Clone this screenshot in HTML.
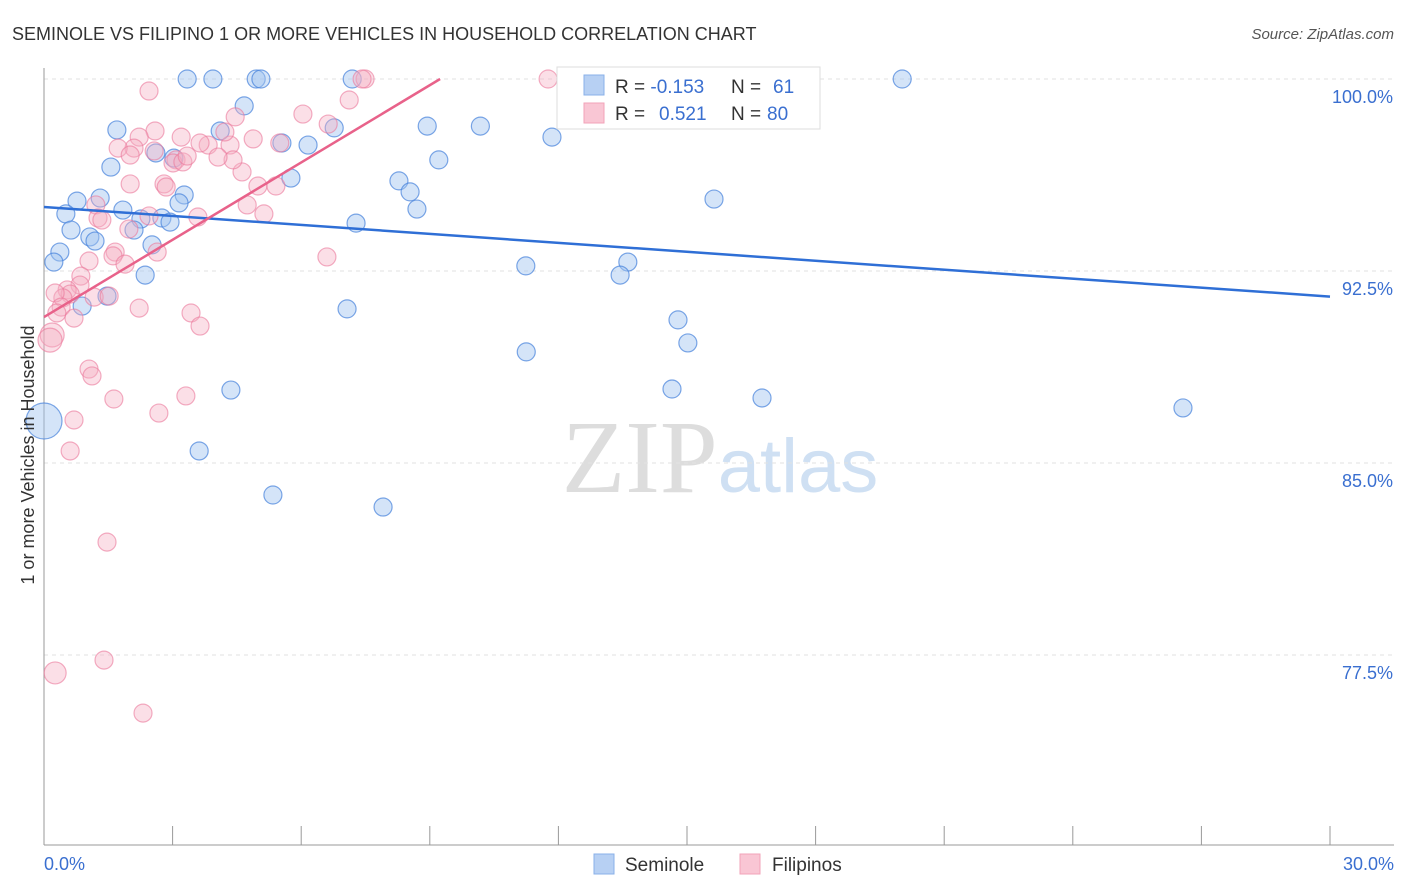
<!DOCTYPE html>
<html><head><meta charset="utf-8"><style>
body{margin:0;background:#fff;font-family:"Liberation Sans",sans-serif}
svg{display:block}
</style></head><body>
<svg id="c" width="1406" height="892" xmlns="http://www.w3.org/2000/svg">
<text x="12" y="40" font-size="18" fill="#333">SEMINOLE VS FILIPINO 1 OR MORE VEHICLES IN HOUSEHOLD CORRELATION CHART</text>
<text x="1394" y="39" font-size="15" fill="#555" font-style="italic" text-anchor="end">Source: ZipAtlas.com</text>
<text x="720" y="492" font-size="104" fill="#ddd" text-anchor="middle" font-family="Liberation Serif,serif">ZIP<tspan fill="#cfe0f3" font-family="Liberation Sans,sans-serif" font-size="76">atlas</tspan></text>
<g id="grid"></g>
<g id="axes"></g>
<g id="pts"></g>
<g id="trend"></g>
<text transform="translate(34,455) rotate(-90)" font-size="18" fill="#333" text-anchor="middle">1 or more Vehicles in Household</text>
<g>
<rect x="557" y="67" width="263" height="62" fill="#fff" stroke="#ddd"/>
<rect x="584" y="75" width="20" height="20" fill="#b7d0f3" stroke="#8ab0e8"/>
<rect x="584" y="103" width="20" height="20" fill="#f9c6d4" stroke="#f2a3b8"/>
<text x="615" y="93" font-size="19" fill="#333">R = <tspan fill="#3a6fd0">-0.153</tspan><tspan x="731">N = </tspan><tspan x="773" fill="#3a6fd0">61</tspan></text>
<text x="615" y="120" font-size="19" fill="#333">R = <tspan x="659" fill="#3a6fd0">0.521</tspan><tspan x="731">N = </tspan><tspan x="767" fill="#3a6fd0">80</tspan></text>
</g>
<g>
<rect x="594" y="854" width="20" height="20" fill="#b7d0f3" stroke="#8ab0e8"/>
<text x="625" y="871" font-size="19" fill="#333">Seminole</text>
<rect x="740" y="854" width="20" height="20" fill="#f9c6d4" stroke="#f2a3b8"/>
<text x="772" y="871" font-size="19" fill="#333">Filipinos</text>
</g>
</svg>
<script>
const xTicks=[0,3,6,9,12,15,18,21,24,27,30];
const yTicks=[77.5,85,92.5,100];
const yTickLabels=["77.5%","85.0%","92.5%","100.0%"];
const seminoleX=[3.34,3.94,4.95,5.06,7.19,20.02,4.67,1.70,4.11,5.55,6.16,6.77,8.94,10.18,11.85,9.21,1.56,2.61,3.03,5.76,8.28,8.54,8.70,15.63,0.77,1.31,0.51,1.84,3.27,3.15,2.26,2.75,2.94,7.28,2.10,0.63,1.07,1.19,0.37,2.52,0.23,2.36,11.24,13.62,13.44,0.89,1.47,7.07,14.79,15.02,11.25,4.36,14.65,16.75,26.57,0,3.62,5.34,7.91];
const seminoleY=[100,100,100,100,100,100,98.95,98.01,97.97,97.5,97.42,98.09,98.16,98.16,97.73,96.84,96.56,97.11,96.91,96.13,96.02,95.59,94.92,95.31,95.23,95.35,94.73,94.88,95.47,95.16,94.53,94.57,94.41,94.37,94.1,94.1,93.83,93.67,93.24,93.52,92.85,92.34,92.7,92.85,92.34,91.13,91.52,91.02,90.59,89.69,89.34,87.85,87.89,87.54,87.15,86.64,85.47,83.75,83.28];
const seminoleR=[9,9,9,9,9,9,9,9,9,9,9,9,9,9,9,9,9,9,9,9,9,9,9,9,9,9,9,9,9,9,9,9,9,9,9,9,9,9,9,9,9,9,9,9,9,9,9,9,9,9,9,9,9,9,9,18,9,9,9];
const filipinoX=[2.45,2.59,2.22,2.10,1.73,2.57,3.08,2.01,3.01,3.24,2.80,2.85,2.01,3.83,4.34,3.64,4.22,4.46,4.88,6.04,6.63,7.12,7.49,7.42,11.76,16.70,4.62,4.99,5.41,5.13,3.59,4.41,4.06,3.34,1.21,1.26,1.35,1.98,2.45,1.66,1.61,1.89,2.64,1.05,0.86,0.84,0.54,0.61,0.44,0.26,1.17,1.52,0.40,0.30,0.70,2.22,3.43,3.64,0.19,0.14,1.05,1.12,3.31,1.63,2.68,0.70,0.61,1.47,1.40,0.26,2.31,6.60,5.50,3.20,4.74];
const filipinoY=[99.53,97.97,97.73,97.3,97.3,97.19,96.84,97.03,96.72,96.76,95.9,95.78,95.9,97.42,97.42,97.5,97.93,98.52,97.66,98.63,98.24,99.18,100,100,100,100,96.37,95.82,95.82,94.73,94.61,96.84,96.95,96.99,95.08,94.57,94.49,94.14,94.65,93.24,93.09,92.77,93.24,92.89,92.3,91.95,91.76,91.6,91.45,91.64,91.48,91.52,91.09,90.86,90.66,91.05,90.86,90.35,90.0,89.8,88.67,88.4,87.62,87.5,86.95,86.68,85.47,81.91,77.3,76.8,75.23,93.05,97.5,97.73,95.08];
const filipinoR=[9,9,9,9,9,9,9,9,9,9,9,9,9,9,9,9,9,9,9,9,9,9,9,9,9,9,9,9,9,9,9,9,9,9,9,9,9,9,9,9,9,9,9,9,9,9,9,9,9,9,9,9,9,9,9,9,9,9,12,12,9,9,9,9,9,9,9,9,9,11,9,9,9,9,9];
const trendSem=[[0,95.0],[30,91.5]];
const trendFil=[[0,90.7],[9.24,100]];
const X=v=>44+v/30*1286, Y=v=>79+(100-v)/7.5*192;
const NS="http://www.w3.org/2000/svg";
function mk(p,t,a){const e=document.createElementNS(NS,t);for(const k in a)e.setAttribute(k,a[k]);document.getElementById(p).appendChild(e);return e;}
yTicks.forEach((t,i)=>{
 const l=mk('grid','line',{x1:44,x2:1394,y1:Y(t),y2:Y(t),stroke:'#e2e2e2','stroke-dasharray':'4,4'});
 
 
 const tx=mk('grid','text',{x:1393,y:Y(t)+24,'font-size':18,fill:'#3a6fd0','text-anchor':'end'});
 tx.textContent=yTickLabels[i];
 
 
});
const ax=mk('axes','line',{x1:44,x2:44,y1:68,y2:845,stroke:'#999'});


const bx=mk('axes','line',{x1:44,x2:1394,y1:845,y2:845,stroke:'#999'});


xTicks.forEach(t=>{
 const l=mk('axes','line',{x1:X(t),x2:X(t),y1:826,y2:845,stroke:'#999'});
 
 
});
[[0,'0.0%','start',44],[30,'30.0%','end',1394]].forEach(d=>{
 const tx=mk('axes','text',{x:d[3],y:870,'font-size':18,fill:'#3a6fd0','text-anchor':d[2]});
 tx.textContent=d[1];
 
 
});
seminoleX.forEach((v,i)=>{
 const c=mk('pts','circle',{cx:X(v),cy:Y(seminoleY[i]),r:seminoleR[i],fill:'rgba(160,195,240,0.45)',stroke:'rgba(70,130,220,0.7)','stroke-width':1.2});
 
 
});
filipinoX.forEach((v,i)=>{
 const c=mk('pts','circle',{cx:X(v),cy:Y(filipinoY[i]),r:filipinoR[i],fill:'rgba(246,175,195,0.4)',stroke:'rgba(235,120,155,0.6)','stroke-width':1.2});
 
 
});
const t1=mk('trend','line',{x1:X(trendSem[0][0]),y1:Y(trendSem[0][1]),x2:X(trendSem[1][0]),y2:Y(trendSem[1][1]),stroke:'#2f6fd6','stroke-width':2.5});


const t2=mk('trend','line',{x1:X(trendFil[0][0]),y1:Y(trendFil[0][1]),x2:X(trendFil[1][0]),y2:Y(trendFil[1][1]),stroke:'#e8628a','stroke-width':2.5});


</script>
</body></html>
